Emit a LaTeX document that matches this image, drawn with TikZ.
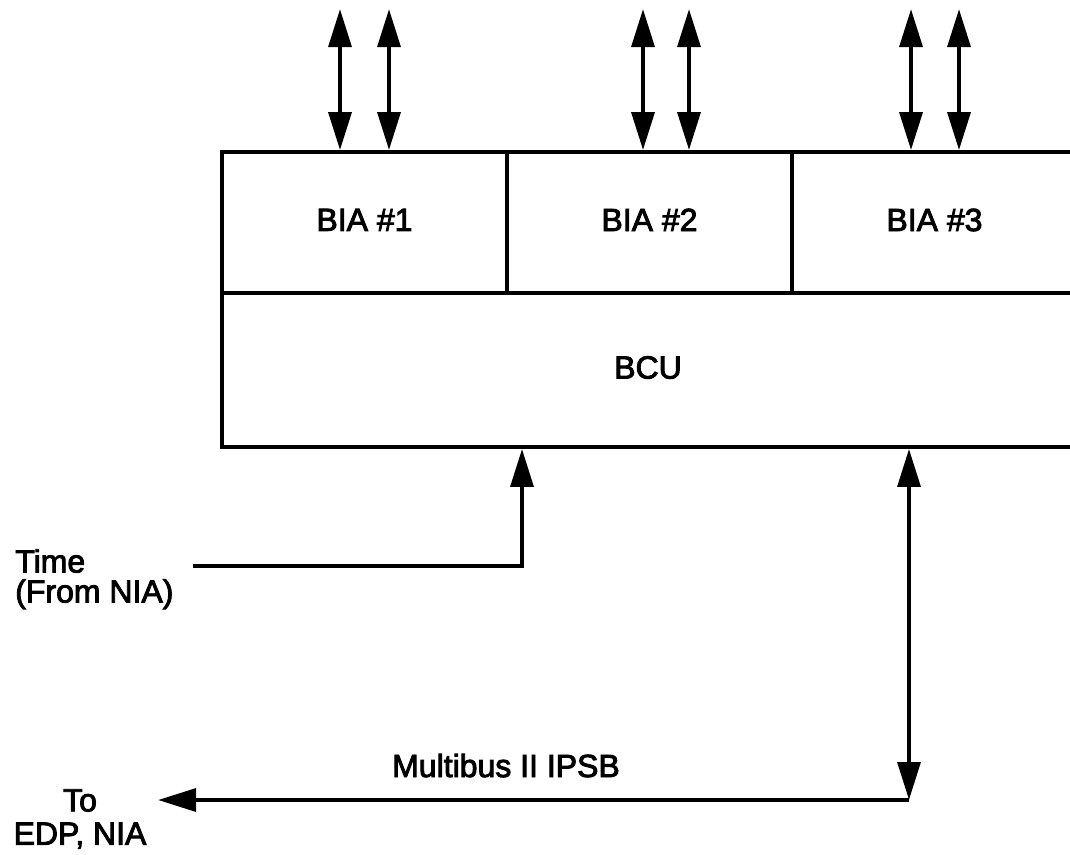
\documentclass[tikz,border=0pt]{standalone}
\usepackage{fontspec}
\setmainfont{Liberation Sans}
\newfontfamily\medfont{Liberation Sans}[FakeBold=2.8]
\usetikzlibrary{arrows.meta}
\begin{document}
\begin{tikzpicture}[x=0.75pt,y=-0.75pt,
  box/.style={draw, line width=2.8pt, inner sep=0pt, font=\medfont\fontsize{24}{26}\selectfont, text depth=4pt},
  conn/.style={line width=3.2pt, -{Triangle[length=28.5pt,width=17pt]}},
  dconn/.style={line width=3.2pt, {Triangle[length=28.5pt,width=17pt]}-{Triangle[length=28.5pt,width=17pt]}},
  lbl/.style={inner sep=0pt, font=\medfont\fontsize{24}{22.5}\selectfont}]
\useasboundingbox (0,0) rectangle (1070,854);
\clip (0,0) rectangle (1070,854);
% boxes
\node[box, minimum width=213.75pt, minimum height=105.75pt] (bia1) at (364.5,222.5) {BIA \#1};
\node[box, minimum width=213.75pt, minimum height=105.75pt] (bia2) at (649.5,222.5) {BIA \#2};
\node[box, minimum width=213.75pt, minimum height=105.75pt] (bia3) at (934.5,222.5) {BIA \#3};
\node[box, minimum width=639pt, minimum height=115.5pt] (bcu) at (648,370) {BCU};
% top arrows
\coordinate (a1) at (340,9);
\coordinate (a2) at (389,9);
\coordinate (a3) at (643,9);
\coordinate (a4) at (689,9);
\coordinate (a5) at (911,9);
\coordinate (a6) at (959,9);
\draw[dconn] (a1) -- (a1 |- bia1.north);
\draw[dconn] (a2) -- (a2 |- bia1.north);
\draw[dconn] (a3) -- (a3 |- bia2.north);
\draw[dconn] (a4) -- (a4 |- bia2.north);
\draw[dconn] (a5) -- (a5 |- bia3.north);
\draw[dconn] (a6) -- (a6 |- bia3.north);
% time input
\node[lbl, anchor=north west, align=left] (time) at (15,549) {Time\\(From NIA)};
\coordinate (tS) at (193,566);
\coordinate (tX) at (522,566);
\draw[conn] (tS) -- (tX) -- (tX |- bcu.south);
% multibus
\coordinate (mC) at (909,800);
\coordinate (toE) at (158,800);
\draw[dconn] (mC |- bcu.south) -- (mC);
\draw[conn] (mC) -- (toE);
\node[lbl, anchor=base] (mb) at (506,777) {Multibus II IPSB};
\node[lbl, anchor=north, align=center, font=\medfont\fontsize{24}{25}\selectfont] (to) at (80,789) {To\\EDP, NIA};
\end{tikzpicture}
\end{document}
